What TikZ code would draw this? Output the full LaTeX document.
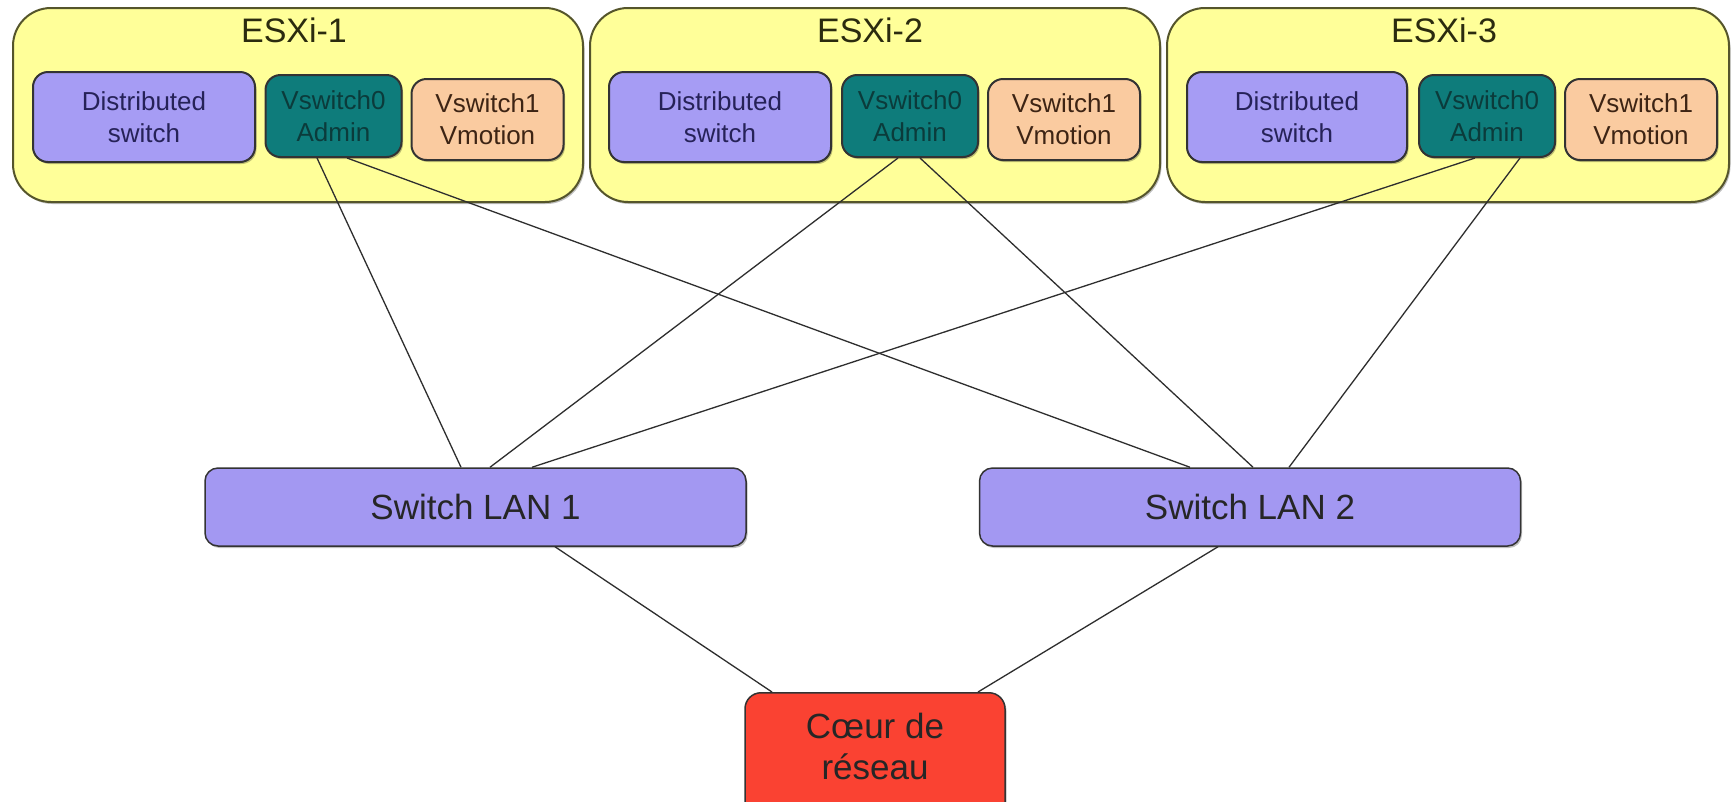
\documentclass[tikz,border=0pt]{standalone}
\usepackage{fontspec}
\setmainfont{Liberation Sans}
\usetikzlibrary{shadows}
\definecolor{hostfill}{HTML}{FFFF99}
\definecolor{hostborder}{HTML}{55552B}
\definecolor{distfill}{HTML}{A69CF4}
\definecolor{disttext}{HTML}{262258}
\definecolor{vzfill}{HTML}{0E7C7B}
\definecolor{vztext}{HTML}{0B3B3B}
\definecolor{vofill}{HTML}{FACBA0}
\definecolor{votext}{HTML}{3D2414}
\definecolor{lanfill}{HTML}{A398F2}
\definecolor{corefill}{HTML}{FA4232}
\definecolor{boxborder}{HTML}{333333}
\definecolor{linkcol}{HTML}{2E2E2E}
\definecolor{titletext}{HTML}{2B2B0F}
\begin{document}
\begin{tikzpicture}[x=1pt,y=-1pt,
  shadowed/.style={drop shadow={shadow xshift=1.5pt,shadow yshift=-2pt,fill=black,opacity=0.25}},
  host/.style={draw=hostborder,line width=2pt,fill=hostfill,rounded corners=38pt,minimum height=194pt,inner sep=0pt,shadowed},
  hosttitle/.style={inner sep=0pt,text=titletext,font=\fontsize{34}{40}\selectfont},
  inner/.style={draw=boxborder,line width=2pt,rounded corners=15pt,inner sep=0pt,align=center,font=\fontsize{26}{32}\selectfont,shadowed},
  distbox/.style={inner,fill=distfill,text=disttext,minimum width=222pt,minimum height=90pt},
  vzbox/.style={inner,fill=vzfill,text=vztext,minimum width=136pt,minimum height=82pt},
  vobox/.style={inner,fill=vofill,text=votext,minimum width=152pt,minimum height=81pt},
  lanbox/.style={draw=boxborder,line width=1.5pt,fill=lanfill,rounded corners=13pt,inner sep=0pt,minimum width=541pt,minimum height=78pt,font=\fontsize{35}{41}\selectfont,text=black!85,shadowed},
  corebox/.style={draw=boxborder,line width=1.5pt,fill=corefill,rounded corners=16pt,inner sep=0pt,minimum width=260pt,minimum height=140pt,shadowed},
  coretext/.style={inner sep=0pt,align=center,font=\fontsize{35}{41}\selectfont,text=black!85},
  link/.style={draw=linkcol,line width=1.3pt}
]
\useasboundingbox (0,0) rectangle (1731,801);
\fill[white] (0,0) rectangle (1731,801);

% hosts
\node[host,minimum width=570pt] (h1) at (298,105) {};
\node[host,minimum width=570pt] (h2) at (875,105) {};
\node[host,minimum width=562pt] (h3) at (1448,105) {};
\node[hosttitle] (t1) at (294,30) {ESXi-1};
\node[hosttitle] (t2) at (870,30) {ESXi-2};
\node[hosttitle] (t3) at (1444,30) {ESXi-3};

% inner boxes
\node[distbox] (d1) at (144,117) {Distributed\\switch};
\node[vzbox] (v01) at (333.5,116) {Vswitch0\\Admin};
\node[vobox] (v11) at (487.5,119.5) {Vswitch1\\Vmotion};

\node[distbox] (d2) at (720,117) {Distributed\\switch};
\node[vzbox] (v02) at (910,116) {Vswitch0\\Admin};
\node[vobox] (v12) at (1064,119.5) {Vswitch1\\Vmotion};

\node[distbox,minimum width=220pt] (d3) at (1297,117) {Distributed\\switch};
\node[vzbox] (v03) at (1487,116) {Vswitch0\\Admin};
\node[vobox] (v13) at (1641,119.5) {Vswitch1\\Vmotion};

% LAN switches
\node[lanbox] (lan1) at (475.5,507) {Switch LAN 1};
\node[lanbox] (lan2) at (1250,507) {Switch LAN 2};

% core
\node[corebox,anchor=north] (core) at (875,692) {};
\node[coretext] (coret) at (875,746) {Cœur de\\réseau};

% links
\draw[link] ([xshift=-16.5pt]v01.south) -- ([xshift=-14.5pt]lan1.north);
\draw[link] ([xshift=13.5pt]v01.south) -- ([xshift=-60pt]lan2.north);
\draw[link] ([xshift=-12pt]v02.south) -- ([xshift=14.5pt]lan1.north);
\draw[link] ([xshift=10pt]v02.south) -- ([xshift=3pt]lan2.north);
\draw[link] ([xshift=-12pt]v03.south) -- ([xshift=56.5pt]lan1.north);
\draw[link] ([xshift=33pt]v03.south) -- ([xshift=39pt]lan2.north);
\draw[link] ([xshift=79.5pt]lan1.south) -- ([xshift=-103pt]core.north);
\draw[link] ([xshift=-32pt]lan2.south) -- ([xshift=103pt]core.north);
\end{tikzpicture}
\end{document}
